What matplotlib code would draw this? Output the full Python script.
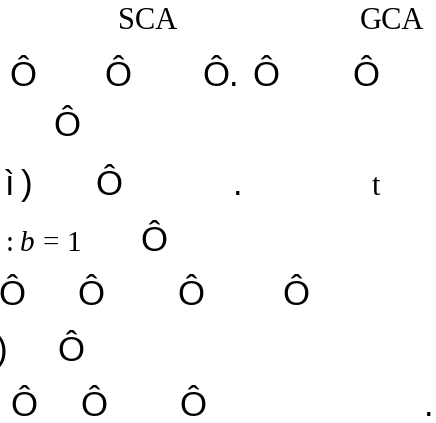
import matplotlib
matplotlib.use("Agg")
import matplotlib.pyplot as plt

W, H = 436, 423

# text fragments: label, left x (px), baseline y (px from top)
serif_labels = ["SCA", "GCA", "t", ":", "=", "1"]
serif_x = [118, 360, 372, 6, 42, 66]
serif_y = [29, 29, 195, 251, 251, 251]
serif_size = [22, 22, 22, 21, 21, 21]

italic_labels = ["b"]
italic_x = [20]
italic_y = [251]

sans_labels = ["Ô", "Ô", "Ô.", "Ô", "Ô",
               "Ô",
               "ì", ")", "Ô", ".",
               "Ô",
               "Ô", "Ô", "Ô", "Ô",
               ")", "Ô",
               "Ô", "Ô", "Ô", "."]
sans_x = [9, 104, 202, 252, 352,
          53,
          5, 21, 95, 233,
          140,
          -2, 77, 177, 282,
          -4, 57,
          10, 80, 179, 424]
sans_y = [86, 86, 86, 86, 86,
          136,
          195, 195, 195, 195,
          251,
          305, 305, 305, 305,
          361, 361,
          416, 416, 416, 416]

fig = plt.figure(figsize=(W / 100, H / 100), dpi=100)
fig.patch.set_facecolor("white")

for s, x, y, fs in zip(serif_labels, serif_x, serif_y, serif_size):
    fig.text(x / W, 1 - y / H, s, family="Liberation Serif", fontsize=fs,
             ha="left", va="baseline", color="black")

for s, x, y in zip(italic_labels, italic_x, italic_y):
    fig.text(x / W, 1 - y / H, s, family="Liberation Serif", style="italic",
             fontsize=21, ha="left", va="baseline", color="black")

for s, x, y in zip(sans_labels, sans_x, sans_y):
    fig.text(x / W, 1 - y / H, s, family="Liberation Sans", fontsize=25,
             ha="left", va="baseline", color="black")

fig.savefig("out.png", dpi=100, facecolor="white")
